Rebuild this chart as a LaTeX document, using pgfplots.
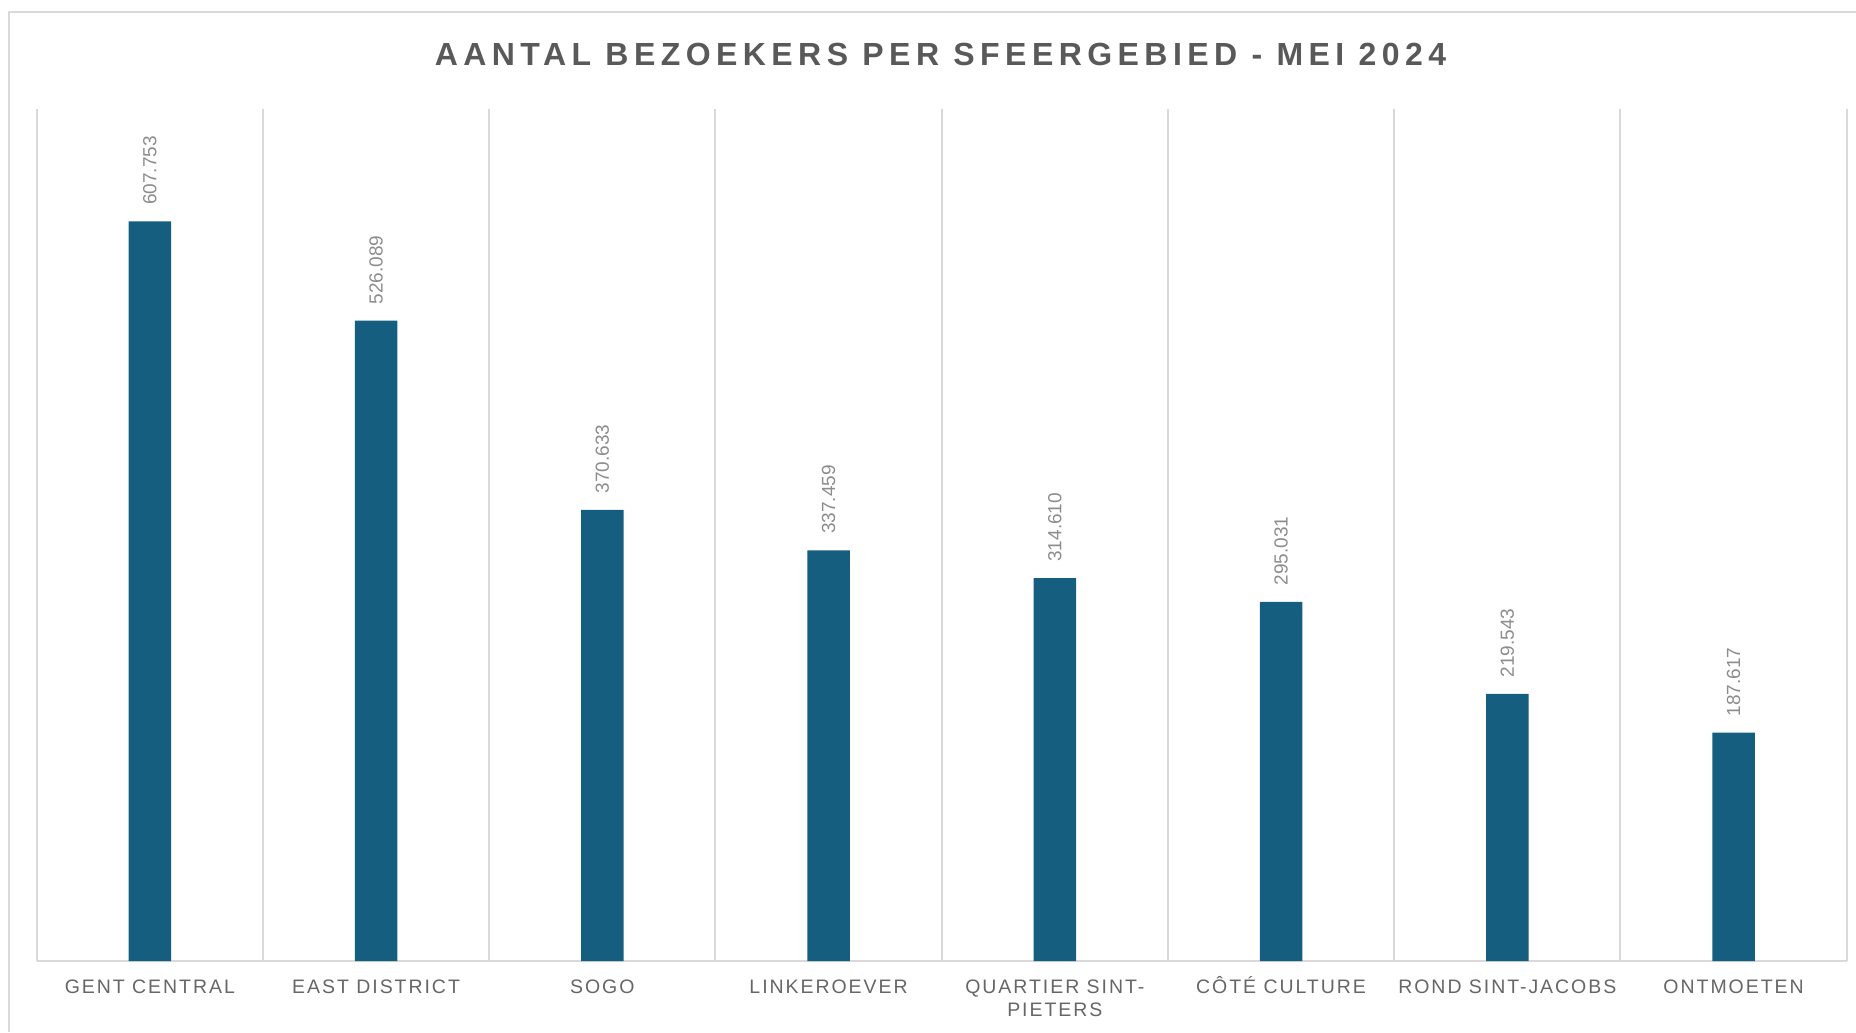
\documentclass[border=0pt]{standalone}
\usepackage{pgfplots}
\pgfplotsset{compat=1.18}
\usepackage{fontspec}
\setmainfont{Liberation Sans}
\newfontfamily\titlefont[LetterSpace=17]{Liberation Sans}
\newfontfamily\tickfont[LetterSpace=10]{Liberation Sans}
\definecolor{barblue}{HTML}{165E80}
\definecolor{gridgray}{HTML}{D9D9D9}
\definecolor{titlegray}{HTML}{595959}
\definecolor{tickgray}{HTML}{666666}
\definecolor{valgray}{HTML}{8C8C8C}

\begin{document}
\begin{tikzpicture}[x=1pt,y=1pt]
\path[use as bounding box] (0,0) rectangle (742.4,412.8);
% chart frame (cropped at right and bottom)
\draw[gridgray, line width=0.8pt] (3.6,0) -- (3.6,408) -- (742.4,408);
\node[anchor=base, color=titlegray, font=\titlefont\bfseries\fontsize{12.8}{15}\selectfont]
  at (376.2,386.6) {AANTAL BEZOEKERS PER SFEERGEBIED - MEI 2024};
\begin{axis}[
  at={(14.68pt,28.4pt)}, anchor=south west,
  scale only axis, width=724pt, height=340.8pt,
  xmin=-0.5, xmax=7.5, ymin=0, ymax=700000,
  axis x line=bottom, axis y line=none,
  x axis line style={-, gridgray, line width=1pt},
  ytick=\empty,
  xtick={0,...,7},
  xticklabels={GENT CENTRAL, EAST DISTRICT, SOGO, LINKEROEVER,
    {\begin{tabular}[t]{@{}c@{}}QUARTIER SINT-\\PIETERS\end{tabular}},
    CÔTÉ CULTURE, ROND SINT-JACOBS, ONTMOETEN},
  x tick label style={font=\tickfont\fontsize{7.8}{9.6}\selectfont, color=tickgray, anchor=base, yshift=-12.8pt, inner sep=0pt},
  major tick length=0pt, minor tick length=0pt,
  minor xtick={-0.5,0.5,...,7.5},
  xminorgrids, minor grid style={gridgray, line width=0.8pt},
  ybar, bar width=17pt,
  nodes near coords,
  point meta=explicit symbolic,
  every node near coord/.append style={font=\fontsize{7.6}{9}\selectfont, color=valgray, rotate=90, anchor=west, inner sep=0pt, xshift=6.4pt},
  clip=false,
]
\addplot[fill=barblue, draw=none] coordinates {
  (0,607753) [607.753]
  (1,526089) [526.089]
  (2,370633) [370.633]
  (3,337459) [337.459]
  (4,314610) [314.610]
  (5,295031) [295.031]
  (6,219543) [219.543]
  (7,187617) [187.617]
};
\end{axis}
\end{tikzpicture}
\end{document}
